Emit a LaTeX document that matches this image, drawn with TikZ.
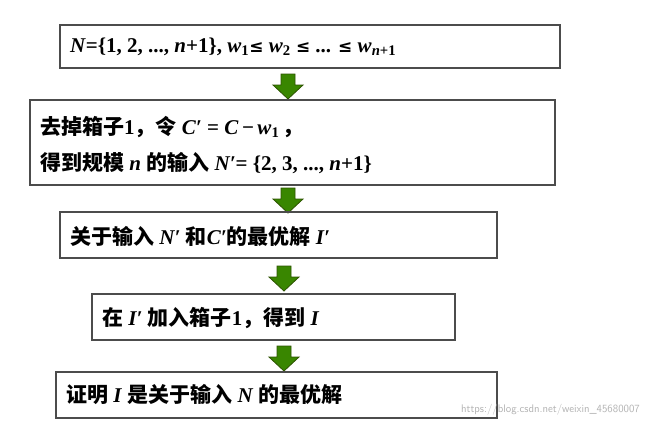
\documentclass[tikz,border=0pt]{standalone}
\usepackage{fontspec}
\setmainfont{Liberation Serif}
\newfontfamily\cjk{Noto Sans CJK SC}
\newfontfamily\dvs{DejaVu Sans}
\newcommand\iv[1]{\textbf{\textit{#1}}}
\newcommand\myleq{{\dvs\fontsize{17}{20}\selectfont ≤}}
\begin{document}
\begin{tikzpicture}[x=1pt,y=-1pt,
  boxst/.style={draw=black!70,line width=1.2pt,inner sep=0pt},
  txt/.style={anchor=west,font=\fontsize{21}{28}\selectfont\bfseries,inner sep=0pt},
  garrow/.style={fill=green!40!olive!75!black,draw=green!30!olive!50!black,line width=0.8pt}]
\useasboundingbox (0,0) rectangle (649,429);
\newcommand\garr[2]{\draw[garrow] (#1-7,#2) -- (#1+7,#2) -- (#1+7,#2+11) -- (#1+15,#2+11) -- (#1,#2+25) -- (#1-15,#2+11) -- (#1-7,#2+11) -- cycle;}
\draw[boxst] (60,25) rectangle (560,68);
\node[txt] (t1) at (70,47) {\iv{N}=\{1, 2, ..., \iv{n}+1\}, \iv{w}\textsubscript{1}\myleq\ \iv{w}\textsubscript{2} \myleq\ ... \myleq\ \iv{w}\textsubscript{\iv{n}+1}};
\garr{288}{74}
\draw[boxst] (30,100) rectangle (555,185);
\node[txt] (t2a) at (40,127) {{\cjk 去掉箱子}1{\cjk ，令} \iv{C′} = \iv{C}\,−\,\iv{w}\textsubscript{1}\,{\cjk ，}};
\node[txt] (t2b) at (40,163) {{\cjk 得到规模} \iv{n} {\cjk 的输入} \iv{N′}= \{2, 3, ..., \iv{n}+1\}};
\garr{288}{188}
\draw[boxst] (60,212) rectangle (497,258);
\node[txt] (t3) at (70,236) {{\cjk 关于输入} \iv{N′} {\cjk 和}\iv{C′}{\cjk 的最优解} \iv{I′}};
\garr{284}{266}
\draw[boxst] (92,294) rectangle (455,340);
\node[txt] (t4) at (102,318) {{\cjk 在} \iv{I′} {\cjk 加入箱子}1{\cjk ，得到} \iv{I}};
\garr{284}{346}
\draw[boxst] (56,372) rectangle (497,418);
\node[txt] (t5) at (66,395) {{\cjk 证明} \iv{I} {\cjk 是关于输入} \iv{N} {\cjk 的最优解}};
\node[anchor=east,font=\fontsize{11}{12}\selectfont\sffamily,text=black!30,inner sep=0pt] (wm) at (640,410) {https://blog.csdn.net/weixin\_45680007};
\end{tikzpicture}
\end{document}
